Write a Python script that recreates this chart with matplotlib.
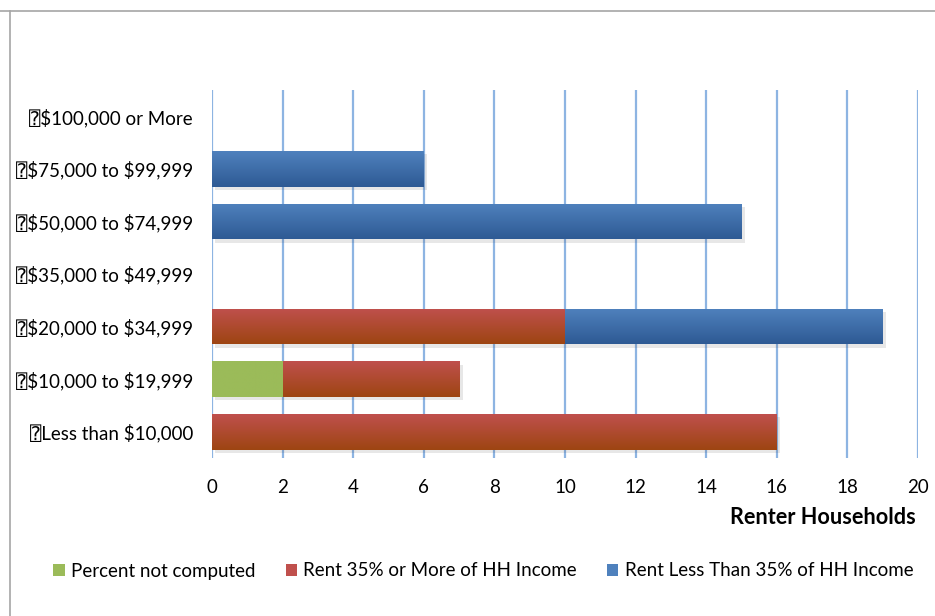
import numpy as np
import matplotlib
matplotlib.use("Agg")
import matplotlib.pyplot as plt
from matplotlib.colors import LinearSegmentedColormap
from matplotlib.lines import Line2D
from matplotlib.patches import Patch
import matplotlib.patheffects as pe

categories = ["Less than $10,000", "$10,000 to $19,999", "$20,000 to $34,999",
              "$35,000 to $49,999", "$50,000 to $74,999", "$75,000 to $99,999",
              "$100,000 or More"]
not_computed = [0, 2, 0, 0, 0, 0, 0]
rent_35_more = [16, 5, 10, 0, 0, 0, 0]
rent_less_35 = [0, 0, 9, 0, 15, 6, 0]
series_names = ["Percent not computed", "Rent 35% or More of HH Income",
                "Rent Less Than 35% of HH Income"]
x_ticks = [0, 2, 4, 6, 8, 10, 12, 14, 16, 18, 20]
x_label = "Renter Households"

FONT = ["Lato", "DejaVu Sans", "DejaVu Sans Mono"]
plt.rcParams["font.family"] = FONT
plt.rcParams["text.parse_math"] = False

top_colors = ["#9BBB59", "#C0504D", "#4F81BD"]
bot_colors = ["#9BBB59", "#9D4512", "#2E5A94"]

fig = plt.figure(figsize=(9.35, 6.16), dpi=100)
ax = fig.add_axes([212/935, 1-458/616, (918-212)/935, (458-90)/616])

y = np.arange(len(categories))
h = 0.68
left = np.zeros(len(categories))
for vals, name, tc, bc in zip([not_computed, rent_35_more, rent_less_35],
                              series_names, top_colors, bot_colors):
    vals = np.array(vals, dtype=float)
    bars = ax.barh(y, vals, height=h, left=left, color=tc, linewidth=0, zorder=3,
                   path_effects=[pe.SimplePatchShadow(offset=(2.5, -2.5), alpha=0.12,
                                                      shadow_rgbFace="#404040"),
                                 pe.Normal()])
    cmap = LinearSegmentedColormap.from_list("g", [bc, tc])
    grad = np.linspace(0, 1, 64).reshape(-1, 1)
    for b, v, l, yy in zip(bars, vals, left, y):
        if v <= 0:
            continue
        im = ax.imshow(grad, cmap=cmap, aspect="auto", origin="lower",
                       extent=(l, l + v, yy - h/2, yy + h/2), zorder=4,
                       interpolation="bilinear")
        im.set_clip_path(b)
    left = left + vals

ax.set_xlim(0, 20)
ax.set_ylim(-0.5, len(categories) - 0.5)
ax.set_xticks(x_ticks)
ax.set_xticklabels([str(t) for t in x_ticks], fontsize=13.5)
ax.set_yticks(y)
ax.set_yticklabels(["\u2370" + c for c in categories], fontsize=13.5)
ax.tick_params(axis="both", length=0, colors="black")
ax.tick_params(axis="x", pad=15)
ax.tick_params(axis="y", pad=13.7)
for s in ax.spines.values():
    s.set_visible(False)
ax.grid(axis="x", color="#8DB4E2", linewidth=1.6, zorder=1)
ax.set_axisbelow(True)

ax.set_xlabel(x_label, fontsize=15.6, fontweight="bold", ha="right", x=0.997, labelpad=8)

handles = [Patch(facecolor=c, edgecolor="none") for c in top_colors]
leg = fig.legend(handles, series_names, loc="center", bbox_to_anchor=(0.517, 1-571/616),
                 ncol=3, frameon=False, fontsize=13.5, handlelength=0.6, handleheight=0.6,
                 handletextpad=0.35, columnspacing=1.6)

fig.add_artist(Line2D([0, 1], [1-10.5/616, 1-10.5/616], transform=fig.transFigure,
                      color="#A6A6A6", linewidth=1.2))
fig.add_artist(Line2D([9.5/935, 9.5/935], [0, 1-10.5/616], transform=fig.transFigure,
                      color="#A6A6A6", linewidth=1.2))

fig.savefig("out.png", dpi=100)
